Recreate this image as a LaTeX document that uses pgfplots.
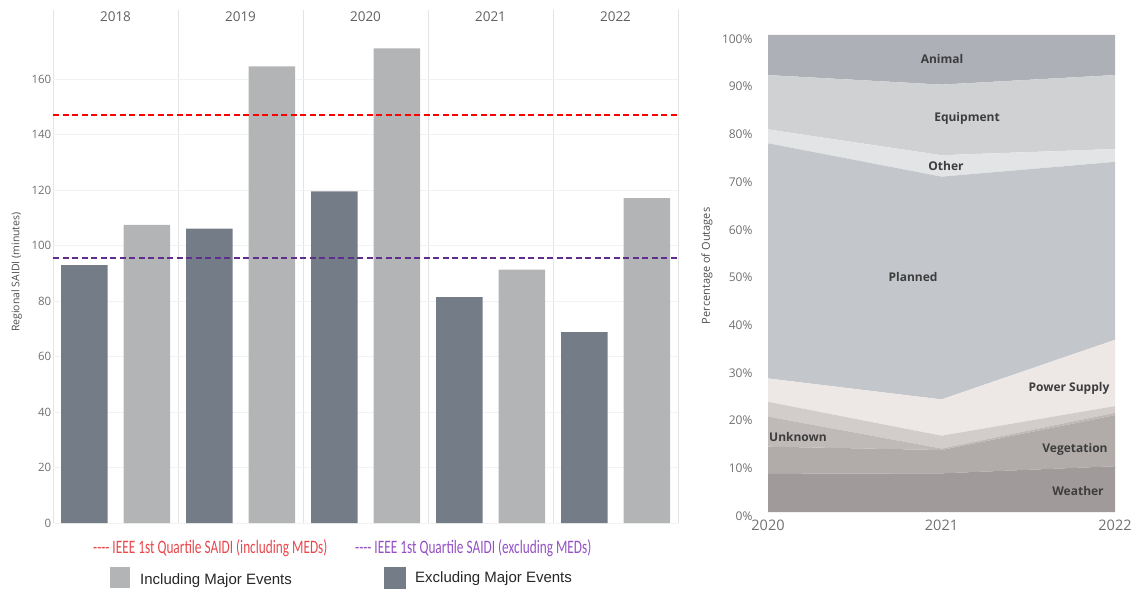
\documentclass[border=0pt]{standalone}
\usepackage{pgfplots}
\pgfplotsset{compat=1.18}
\usepackage{fontspec}
\usepackage{graphicx}
\setmainfont{Open Sans}
\newfontfamily\carl{Carlito}
\newfontfamily\lib{Liberation Sans}
\definecolor{exclc}{HTML}{747C88}
\definecolor{inclc}{HTML}{B2B4B6}
\definecolor{sepgray}{HTML}{E4E4E4}
\definecolor{gridgray}{HTML}{F2F2F2}
\definecolor{tickgray}{HTML}{707070}
\definecolor{headgray}{HTML}{606060}
\definecolor{cPurpLine}{HTML}{5E2D8E}
\definecolor{redtext}{HTML}{E8474C}
\definecolor{purptext}{HTML}{9450C4}
\definecolor{cAnimal}{HTML}{AEB0B7}
\definecolor{cEquip}{HTML}{D0D1D3}
\definecolor{cOther}{HTML}{E3E4E6}
\definecolor{cPlanned}{HTML}{C3C6CB}
\definecolor{cPower}{HTML}{EDE8E6}
\definecolor{cUnl}{HTML}{D2CCCB}
\definecolor{cUnknown}{HTML}{BFB9B8}
\definecolor{cVeg}{HTML}{B1ABAA}
\definecolor{cWeather}{HTML}{A09B9A}
\definecolor{labgray}{HTML}{3D3D3D}
\begin{document}
\begin{tikzpicture}[x=1pt,y=1pt]
\useasboundingbox (0,0) rectangle (1135,590);
% ---------------- Left chart ----------------
\begin{axis}[at={(53pt,67pt)}, anchor=south west, scale only axis,
  width=625pt, height=513pt,
  xmin=-0.5, xmax=4.5, ymin=0, ymax=185,
  axis line style={draw=none}, tick style={draw=none},
  xtick={-0.5,0.5,1.5,2.5,3.5,4.5}, xticklabels={},
  ytick={0,20,...,160},
  grid=major,
  x grid style={color=sepgray, line width=0.9pt},
  y grid style={color=gridgray, line width=0.6pt},
  /pgf/number format/assume math mode=true,
  yticklabel style={font=\fontsize{11.5}{12}\selectfont, text=tickgray, inner sep=1.5pt},
  ylabel={Regional SAIDI (minutes)},
  ylabel style={at={(axis description cs:-0.058,0.489)}, anchor=center, font=\fontsize{10.5}{11}\selectfont, text=headgray!80!black},
  clip=false]
\addplot[ybar, bar width=46.5pt, bar shift=0pt, fill=exclc, draw=none]
  coordinates {(-0.25,93) (0.75,106.2) (1.75,119.6) (2.75,81.5) (3.75,68.8)};
\addplot[ybar, bar width=46.5pt, bar shift=0pt, fill=inclc, draw=none]
  coordinates {(0.25,107.5) (1.25,164.7) (2.25,171.2) (3.25,91.4) (4.25,117.2)};
\addplot[red, line width=2pt, dash pattern=on 6pt off 3.5pt, mark=none] coordinates {(-0.5,147) (4.5,147)};
\addplot[draw=cPurpLine, line width=1.5pt, dash pattern=on 6pt off 3.5pt, mark=none] coordinates {(-0.5,95.6) (4.5,95.6)};
\node[font=\fontsize{13.5}{14}\selectfont, text=headgray] at (axis cs:0,182.5) {2018};
\node[font=\fontsize{13.5}{14}\selectfont, text=headgray] at (axis cs:1,182.5) {2019};
\node[font=\fontsize{13.5}{14}\selectfont, text=headgray] at (axis cs:2,182.5) {2020};
\node[font=\fontsize{13.5}{14}\selectfont, text=headgray] at (axis cs:3,182.5) {2021};
\node[font=\fontsize{13.5}{14}\selectfont, text=headgray] at (axis cs:4,182.5) {2022};
\end{axis}
% ---------------- Right chart ----------------
\begin{axis}[at={(768pt,78pt)}, anchor=south west, scale only axis,
  width=347pt, height=477pt,
  xmin=0, xmax=2, ymin=0, ymax=100,
  stack plots=y,
  axis line style={draw=none}, tick style={draw=none},
  xtick={0,1,2}, xticklabels={2020,2021,2022},
  ytick={0,10,...,100},
  /pgf/number format/assume math mode=true,
  xticklabel style={font=\fontsize{14.5}{15}\selectfont, text=tickgray, yshift=-4pt},
  yticklabel={\pgfmathprintnumber{\tick}\%},
  yticklabel style={font=\fontsize{12}{12}\selectfont, text=tickgray, xshift=-12pt, yshift=-4pt},
  ylabel={Percentage of Outages},
  ylabel style={at={(axis description cs:-0.176,0.516)}, anchor=center, font=\fontsize{11}{11}\selectfont, text=headgray!80!black},
  clip=false]
\addplot[fill=cWeather, draw=none] coordinates {(0,8.0) (1,8.1) (2,9.6)} \closedcycle;
\addplot[fill=cVeg, draw=none] coordinates {(0,5.7) (1,4.9) (2,10.7)} \closedcycle;
\addplot[fill=cUnknown, draw=none] coordinates {(0,6.3) (1,0.3) (2,0.5)} \closedcycle;
\addplot[fill=cUnl, draw=none] coordinates {(0,3.1) (1,2.7) (2,1.4)} \closedcycle;
\addplot[fill=cPower, draw=none] coordinates {(0,4.9) (1,7.6) (2,13.9)} \closedcycle;
\addplot[fill=cPlanned, draw=none] coordinates {(0,49.3) (1,46.7) (2,37.3)} \closedcycle;
\addplot[fill=cOther, draw=none] coordinates {(0,2.9) (1,4.5) (2,2.7)} \closedcycle;
\addplot[fill=cEquip, draw=none] coordinates {(0,11.4) (1,14.8) (2,15.5)} \closedcycle;
\addplot[fill=cAnimal, draw=none] coordinates {(0,8.4) (1,10.4) (2,8.4)} \closedcycle;
\end{axis}
% area labels
\begin{scope}[every node/.style={font=\fontsize{12}{12}\selectfont\bfseries, text=labgray, inner sep=0pt}]
\node at (942,531) {Animal};
\node at (967,472) {Equipment};
\node at (946,424) {Other};
\node at (913,313) {Planned};
\node at (1069,202) {Power Supply};
\node[anchor=west] at (769,153) {Unknown};
\node at (1075,141) {Vegetation};
\node at (1078,99) {Weather};
\end{scope}
% legend
\node[anchor=west, inner sep=0pt, text=redtext] at (93,42)
  {\scalebox{0.7}[1]{\carl\fontsize{19}{19}\selectfont -{}-{}-{}- IEEE 1st Quartile SAIDI (including MEDs)}};
\node[anchor=west, inner sep=0pt, text=purptext] at (355,42)
  {\scalebox{0.7}[1]{\carl\fontsize{19}{19}\selectfont -{}-{}-{}- IEEE 1st Quartile SAIDI (excluding MEDs)}};
\fill[inclc] (110,2) rectangle (130,23);
\fill[exclc] (384,1) rectangle (406,23);
\node[anchor=west, inner sep=0pt, font=\lib\fontsize{15}{15}\selectfont, text=black!85] at (140,9) {Including Major Events};
\node[anchor=west, inner sep=0pt, font=\lib\fontsize{15}{15}\selectfont, text=black!85] at (415,11) {Excluding Major Events};
\end{tikzpicture}
\end{document}
